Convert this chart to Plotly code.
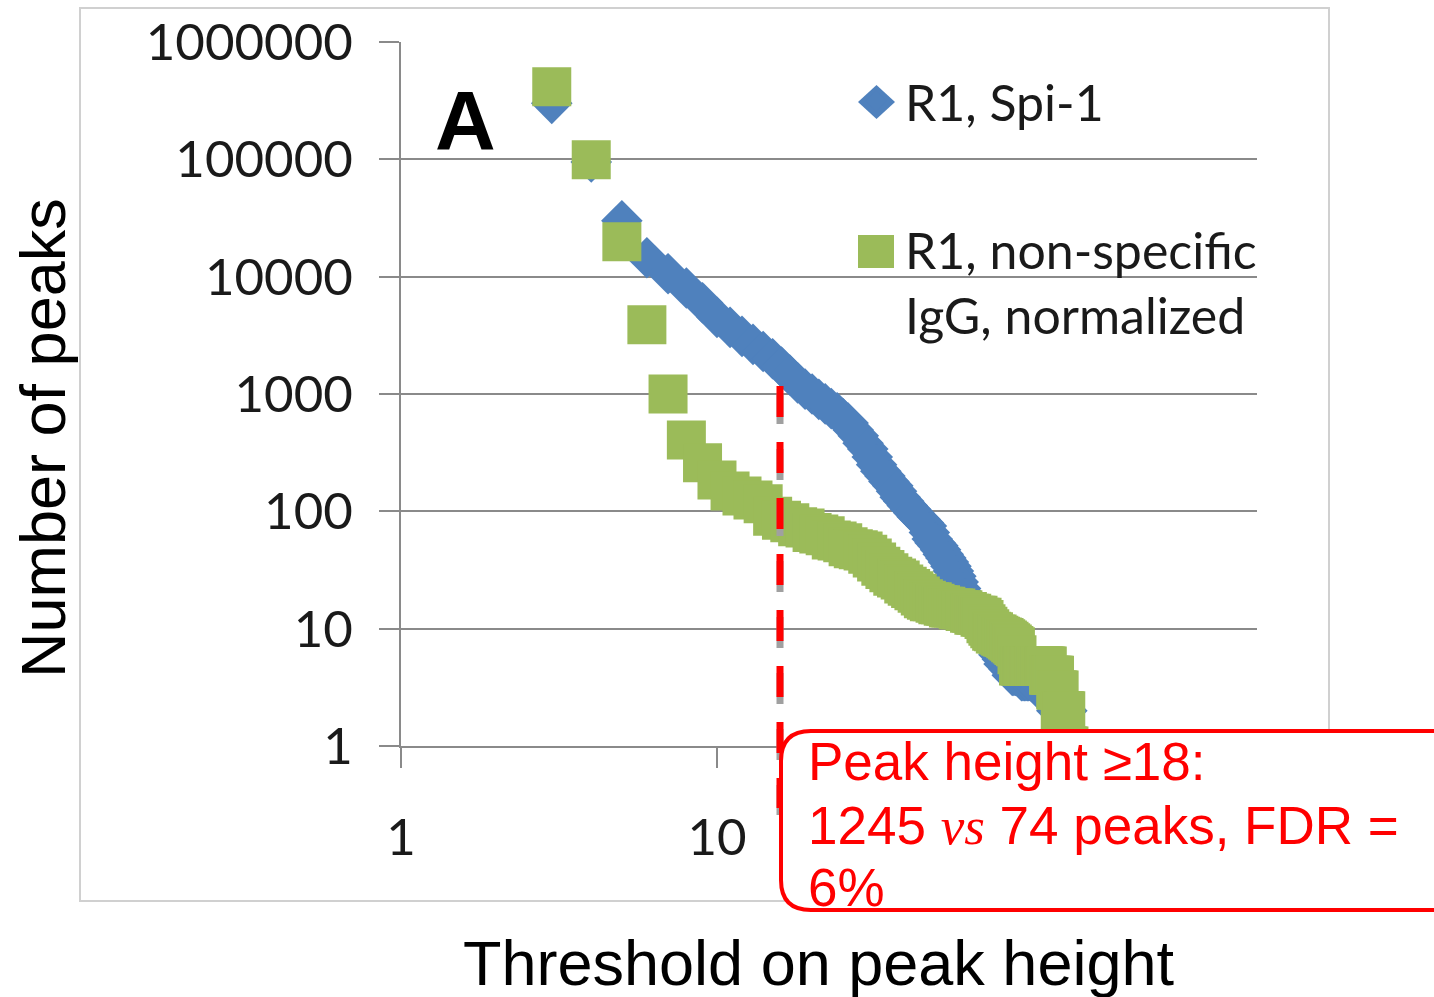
import plotly.graph_objects as go

# ---------------- data ----------------
spi1_threshold = list(range(3, 129))
spi1_peaks = [
    300000, 95000, 30000, 14500, 10600, 8000, 6000, 4500, 3700, 3100,
    2650, 2300, 2000, 1700, 1450, 1245, 1100, 1000, 900, 824,
    750, 690, 620, 566, 494, 440, 380, 340, 290, 250,
    220, 200, 180, 165, 148, 132, 122, 112, 104, 97,
    90, 85, 80, 75, 66, 58, 54, 51, 47, 43,
    40, 37, 34, 31, 28, 25, 22, 20, 18, 16,
    14, 13, 12, 11.5, 11, 10.5, 10, 9.5, 9, 8.5,
    8, 7.5, 7, 7, 6.5, 6, 6, 5.5, 5, 5,
    5, 4.5, 4.5, 4, 4, 4, 4, 4, 3.8, 3.6,
    3.6, 3.6, 3.6, 3.6, 3.6, 3.6, 3.6, 3.6, 3.6, 3.6,
    3.6, 3.6, 3, 3, 3, 3, 3, 3, 3, 3,
    3, 3, 3, 3, 3, 3, 2, 2, 2, 2,
    2, 2, 2, 2, 2, 2,
]

igg_threshold = list(range(3, 131))
igg_peaks = [
    415000, 99000, 19800, 3900, 1000, 406, 259, 185, 149, 135,
    125, 116, 91, 84, 80, 74, 72, 66, 64, 62,
    57, 56, 54, 50, 48, 47, 46, 43, 40, 37,
    34, 32, 30, 28, 27, 26, 24, 23, 22, 21,
    20, 19, 18, 17.5, 17, 17, 16.5, 16, 16, 15.5,
    15.5, 15, 15, 15, 15, 14.5, 14.5, 14.5, 14, 14,
    13.5, 13.5, 13, 13, 13, 12.5, 12.5, 12, 11, 10.5,
    10, 9.5, 9.4, 9, 9, 8.8, 8.6, 8.5, 8.4, 8.2,
    8, 7.8, 7.6, 7.4, 7.2, 7, 6, 4.8, 4.8, 4.8,
    4.8, 4.8, 4.8, 4.8, 4.8, 4.8, 4.8, 4.8, 4.8, 4.8,
    4.8, 4.8, 4.8, 4.8, 4.8, 4.8, 4.8, 4.8, 4.8, 4, 4,
    4, 4, 4, 4, 3, 3, 3, 3, 2, 2,
    2, 2, 2, 2, 1, 1, 1,
]

y_tickvals = [1, 10, 100, 1000, 10000, 100000, 1000000]
y_ticktext = ["1", "10", "100", "1000", "10000", "100000", "1000000"]
x_tickvals = [1, 10]
x_ticktext = ["1", "10"]

series_names = ["R1, Spi-1", "R1, non-specific<br>IgG, normalized"]
series_colors = ["#4f81bd", "#9bbb59"]
x_title = "Threshold on peak height"
y_title = "Number of peaks"
annotation_lines = ["Peak height \u226518:",
                    "1245 <span style=\"font-family:'Liberation Serif'\"><i>vs</i></span> 74 peaks, FDR =",
                    "6%"]

# ---------------- geometry helpers (pixel -> paper) ----------------
W, H = 1434, 997
L, R, T, B = 401, 1257, 42, 746
pw, ph = R - L, B - T


def px(x):
    return (x - L) / pw


def py(y):
    return (B - y) / ph


fig = go.Figure()

fig.add_trace(go.Scatter(
    x=spi1_threshold, y=spi1_peaks, mode="markers", name=series_names[0],
    legendgroup="a",
    marker=dict(symbol="diamond", size=32, color=series_colors[0], line=dict(width=0)),
    cliponaxis=False,
))
fig.add_trace(go.Scatter(
    x=igg_threshold, y=igg_peaks, mode="markers", name=series_names[1],
    legendgroup="b",
    marker=dict(symbol="square", size=39, color=series_colors[1], line=dict(width=0)),
    cliponaxis=False,
))

axis_grey = "#8a8a8a"
tick_font = dict(family="Lato", size=51, color="#1a1a1a")

fig.update_xaxes(
    type="log", range=[0, 2.709], tickvals=x_tickvals, ticktext=x_ticktext,
    showline=True, linecolor=axis_grey, linewidth=2,
    ticks="outside", ticklen=20, tickwidth=2, tickcolor=axis_grey,
    showgrid=False, zeroline=False, tickfont=tick_font, ticklabelstandoff=26,
    automargin=False,
)
fig.update_yaxes(
    type="log", range=[0, 6], tickvals=y_tickvals, ticktext=y_ticktext,
    showline=True, linecolor=axis_grey, linewidth=2,
    ticks="outside", ticklen=20, tickwidth=2, tickcolor=axis_grey,
    showgrid=True, gridcolor=axis_grey, gridwidth=2, zeroline=False,
    tickfont=tick_font, ticklabelstandoff=16, automargin=False,
)

shapes = []
# outer chart frame
shapes.append(dict(type="rect", xref="paper", yref="paper",
                   x0=px(80), x1=px(1329), y0=py(901), y1=py(8),
                   line=dict(color="#d0d0d0", width=2), layer="below"))
# enlarged legend symbols (drawn under the legend's own symbols)
shapes.append(dict(type="path", xref="paper", yref="paper",
                   path=(f"M {px(858)},{py(102)} L {px(876.5)},{py(85)} L {px(895)},{py(102)} "
                         f"L {px(876.5)},{py(119)} Z"),
                   fillcolor=series_colors[0], line=dict(width=0), layer="above"))
shapes.append(dict(type="rect", xref="paper", yref="paper",
                   x0=px(858), x1=px(894), y0=py(268), y1=py(235),
                   fillcolor=series_colors[1], line=dict(width=0), layer="above"))
# dashed threshold line with grey shadow
shapes.append(dict(type="line", xref="paper", yref="paper",
                   x0=px(780), x1=px(780), y0=py(393), y1=py(815),
                   line=dict(color="#a0a0a0", width=7, dash="31px,25px"), layer="above"))
shapes.append(dict(type="line", xref="paper", yref="paper",
                   x0=px(780), x1=px(780), y0=py(386), y1=py(808),
                   line=dict(color="#ff0000", width=7, dash="31px,25px"), layer="above"))
# rounded red box
bx0, bx1, by0, by1, r = 781, 1475, 731, 910, 30
path = (f"M {px(bx0 + r)},{py(by0)} L {px(bx1 - r)},{py(by0)} "
        f"Q {px(bx1)},{py(by0)} {px(bx1)},{py(by0 + r)} "
        f"L {px(bx1)},{py(by1 - r)} Q {px(bx1)},{py(by1)} {px(bx1 - r)},{py(by1)} "
        f"L {px(bx0 + r)},{py(by1)} Q {px(bx0)},{py(by1)} {px(bx0)},{py(by1 - r)} "
        f"L {px(bx0)},{py(by0 + r)} Q {px(bx0)},{py(by0)} {px(bx0 + r)},{py(by0)} Z")
shapes.append(dict(type="path", xref="paper", yref="paper", path=path,
                   fillcolor="white", line=dict(color="#ff0000", width=4), layer="above"))

annotations = []
annotations.append(dict(text="<b>A</b>", xref="paper", yref="paper", x=px(465), y=py(121),
                        xanchor="center", yanchor="middle", showarrow=False,
                        font=dict(family="Liberation Sans", size=84, color="black")))
annotations.append(dict(text=y_title, xref="paper", yref="paper", x=px(43), y=py(438),
                        xanchor="center", yanchor="middle", textangle=-90, showarrow=False,
                        font=dict(family="Liberation Sans", size=63, color="black")))
annotations.append(dict(text=x_title, xref="paper", yref="paper", x=px(818), y=py(963),
                        xanchor="center", yanchor="middle", showarrow=False,
                        font=dict(family="Liberation Sans", size=63, color="black")))
for line_text, yc in zip(annotation_lines, [761, 825, 887]):
    annotations.append(dict(text=line_text, xref="paper", yref="paper", x=px(806), y=py(yc),
                            xanchor="left", yanchor="middle", showarrow=False,
                            font=dict(family="Liberation Sans", size=53, color="#ff0000")))

fig.update_layout(
    width=W, height=H,
    margin=dict(l=L, r=W - R, t=T, b=H - B, autoexpand=False),
    paper_bgcolor="white", plot_bgcolor="white",
    shapes=shapes, annotations=annotations,
    legend=dict(x=px(847), y=py(62), xanchor="left", yanchor="top",
                font=dict(family="Lato", size=50, color="#1a1a1a"),
                bgcolor="rgba(0,0,0,0)", tracegroupgap=80, itemwidth=48, valign="top"),
    showlegend=True,
)

fig.write_html("out.html")
